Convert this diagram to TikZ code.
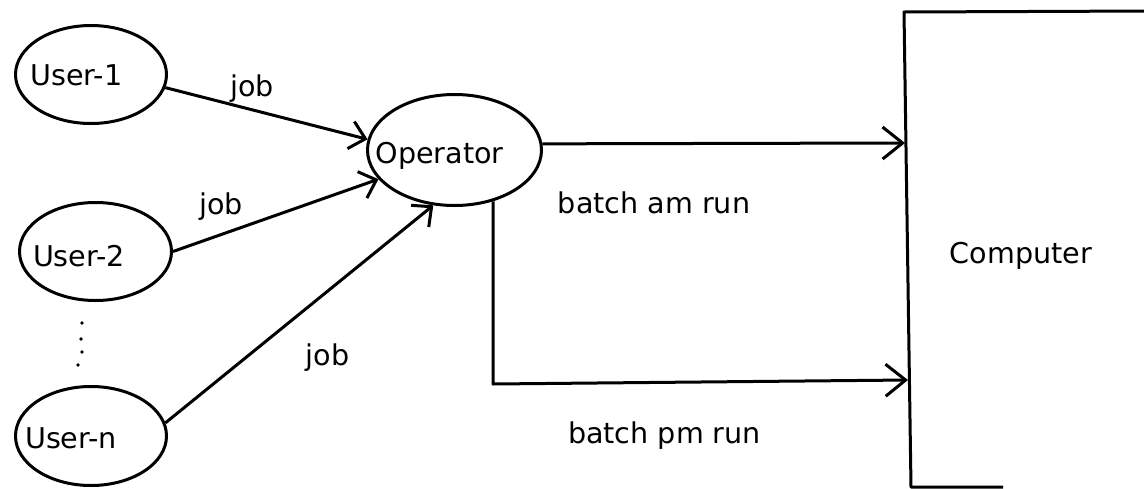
\documentclass[tikz,border=0pt]{standalone}
\usepackage{fontspec}
\setmainfont{DejaVu Sans}
\usetikzlibrary{arrows.meta,shapes.geometric}
\begin{document}
\begin{tikzpicture}[x=1pt,y=-1pt,line width=3pt,line join=round,
  blob/.style={draw,ellipse,inner sep=0pt},
  lbl/.style={anchor=base,inner sep=0pt,font=\fontsize{28.6}{32}\selectfont},
  jobarrow/.style={-{Straight Barb[length=15pt,width=28pt]}},
  runarrow/.style={-{Straight Barb[length=20pt,width=32pt]}},
  dotmark/.style={fill,circle,inner sep=0pt,minimum size=3.6pt}]
\useasboundingbox (0,0) rectangle (1144,488);
\clip (0,0) rectangle (1144,488);

% users and operator
\node[blob,minimum width=151pt,minimum height=98pt] (u1) at (91,74.5) {};
\node[blob,minimum width=152pt,minimum height=98pt] (u2) at (95.5,251.5) {};
\node[blob,minimum width=151pt,minimum height=99pt] (un) at (91,436) {};
\node[blob,minimum width=174pt,minimum height=111pt] (op) at (454.5,150) {};

\node[lbl] (t1) at (76.5,85) {User-1};
\node[lbl] (t2) at (79,266) {User-2};
\node[lbl] (tn) at (71,448) {User-n};
\node[lbl] (top) at (439.5,163) {Operator};

% vertical dots between User-2 and User-n
\node[dotmark] (d1) at (82,323) {};
\node[dotmark] (d2) at (81,339) {};
\node[dotmark] (d3) at (82,352) {};
\node[dotmark] (d4) at (78,365) {};

% computer box (extends past the right and bottom edges)
\coordinate (ctr) at (1150,11);
\coordinate (ctl) at (904,12);
\coordinate (cbl) at (911,487);
\coordinate (cbr) at (1003,487);
\draw (ctr) -- (ctl) -- (cbl) -- (cbr);
\node[lbl] (tc) at (1021,263) {Computer};

% jobs handed to the operator
\draw[jobarrow] (u1.350) -- (op.173.4);
\draw[jobarrow] (u2.0) -- (op.201.2);
\draw[jobarrow] (un.10) -- (op.249.6);
\node[lbl] (j1) at (252,96) {job};
\node[lbl] (j2) at (221,214) {job};
\node[lbl] (j3) at (327.5,365) {job};

% batch runs to the computer
\coordinate (amin) at (905,143);
\coordinate (pmin) at (908,380);
\coordinate (bend) at (493,384);
\draw[runarrow] (op.4.5) -- (amin);
\draw[runarrow] (op.307.5) -- (bend) -- (pmin);
\node[lbl] (am) at (654,213) {batch am run};
\node[lbl] (pm) at (664.5,443) {batch pm run};
\end{tikzpicture}
\end{document}
